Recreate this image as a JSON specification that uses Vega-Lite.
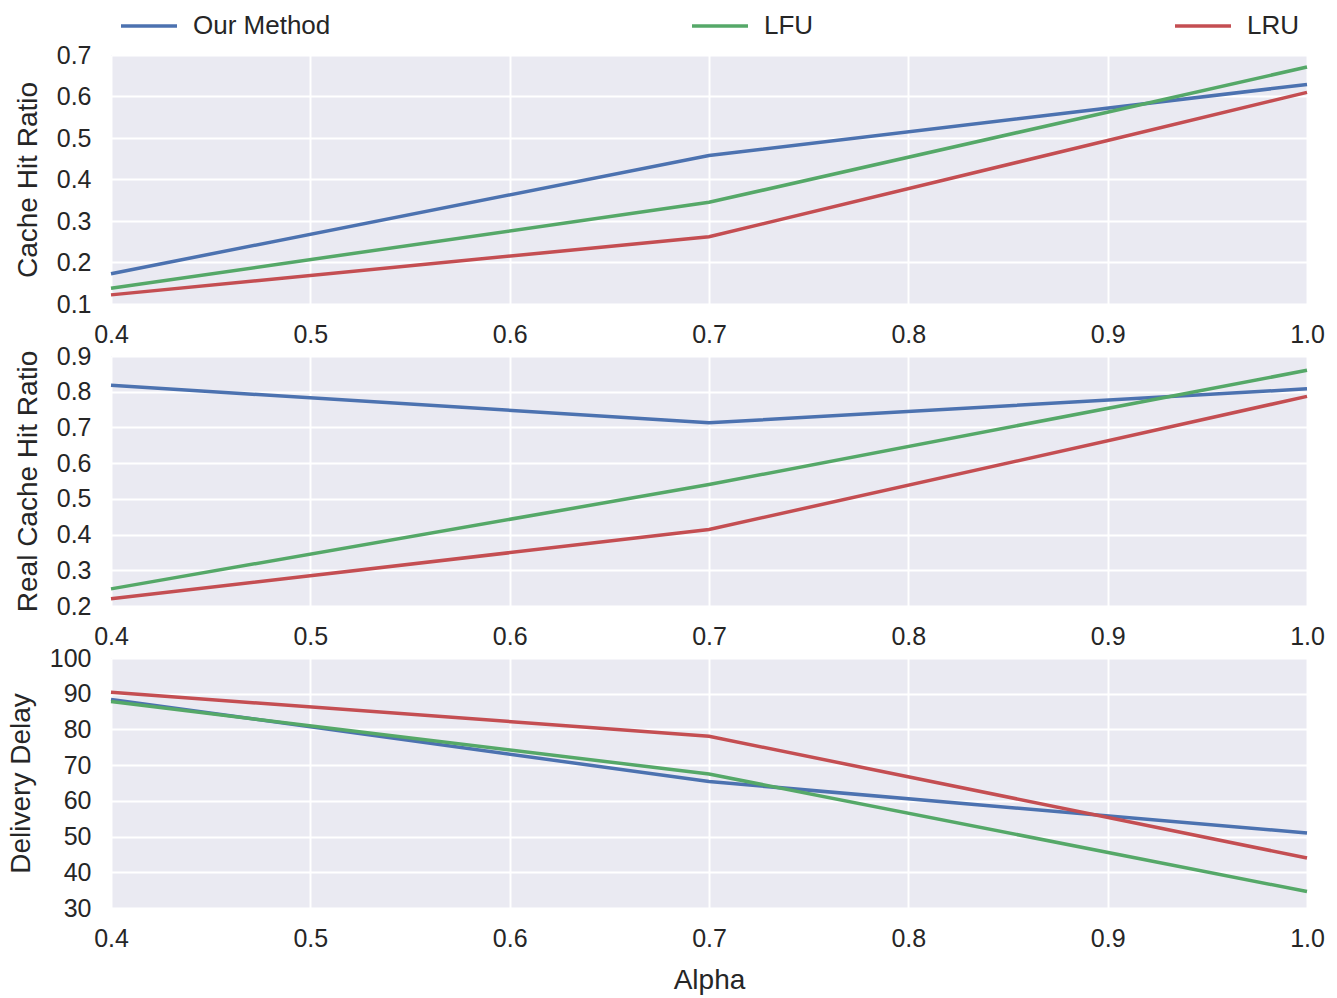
{
  "$schema": "https://vega.github.io/schema/vega-lite/v6.json",
  "padding": {"left": 7, "top": -12, "right": 30, "bottom": 5},
  "background": "white",
  "bounds": "flush",
  "spacing": 52,
  "data": {
    "values": [
      {"metric": "Cache Hit Ratio", "method": "Our Method", "alpha": 0.4, "value": 0.173},
      {"metric": "Cache Hit Ratio", "method": "Our Method", "alpha": 0.7, "value": 0.458},
      {"metric": "Cache Hit Ratio", "method": "Our Method", "alpha": 1.0, "value": 0.629},
      {"metric": "Cache Hit Ratio", "method": "LFU", "alpha": 0.4, "value": 0.138},
      {"metric": "Cache Hit Ratio", "method": "LFU", "alpha": 0.7, "value": 0.345},
      {"metric": "Cache Hit Ratio", "method": "LFU", "alpha": 1.0, "value": 0.671},
      {"metric": "Cache Hit Ratio", "method": "LRU", "alpha": 0.4, "value": 0.122},
      {"metric": "Cache Hit Ratio", "method": "LRU", "alpha": 0.7, "value": 0.262},
      {"metric": "Cache Hit Ratio", "method": "LRU", "alpha": 1.0, "value": 0.610},
      {"metric": "Real Cache Hit Ratio", "method": "Our Method", "alpha": 0.4, "value": 0.818},
      {"metric": "Real Cache Hit Ratio", "method": "Our Method", "alpha": 0.7, "value": 0.713},
      {"metric": "Real Cache Hit Ratio", "method": "Our Method", "alpha": 1.0, "value": 0.808},
      {"metric": "Real Cache Hit Ratio", "method": "LFU", "alpha": 0.4, "value": 0.248},
      {"metric": "Real Cache Hit Ratio", "method": "LFU", "alpha": 0.7, "value": 0.540},
      {"metric": "Real Cache Hit Ratio", "method": "LFU", "alpha": 1.0, "value": 0.860},
      {"metric": "Real Cache Hit Ratio", "method": "LRU", "alpha": 0.4, "value": 0.220},
      {"metric": "Real Cache Hit Ratio", "method": "LRU", "alpha": 0.7, "value": 0.414},
      {"metric": "Real Cache Hit Ratio", "method": "LRU", "alpha": 1.0, "value": 0.787},
      {"metric": "Delivery Delay", "method": "Our Method", "alpha": 0.4, "value": 88.4},
      {"metric": "Delivery Delay", "method": "Our Method", "alpha": 0.7, "value": 65.4},
      {"metric": "Delivery Delay", "method": "Our Method", "alpha": 1.0, "value": 51.0},
      {"metric": "Delivery Delay", "method": "LFU", "alpha": 0.4, "value": 87.8},
      {"metric": "Delivery Delay", "method": "LFU", "alpha": 0.7, "value": 67.5},
      {"metric": "Delivery Delay", "method": "LFU", "alpha": 1.0, "value": 34.6},
      {"metric": "Delivery Delay", "method": "LRU", "alpha": 0.4, "value": 90.4},
      {"metric": "Delivery Delay", "method": "LRU", "alpha": 0.7, "value": 78.1},
      {"metric": "Delivery Delay", "method": "LRU", "alpha": 1.0, "value": 44.0}
    ]
  },
  "vconcat": [
    {
      "width": 1196,
      "height": 249,
      "transform": [{"filter": "datum.metric === 'Cache Hit Ratio'"}],
      "mark": {"type": "line", "strokeWidth": 3.5},
      "encoding": {
        "x": {"field": "alpha", "type": "quantitative", "scale": {"domain": [0.4, 1.0], "nice": false, "zero": false}, "axis": {"title": null, "values": [0.4, 0.5, 0.6, 0.7, 0.8, 0.9, 1.0], "format": ".1f"}},
        "y": {"field": "value", "type": "quantitative", "scale": {"domain": [0.1, 0.7], "nice": false, "zero": false}, "axis": {"title": "Cache Hit Ratio", "values": [0.1, 0.2, 0.3, 0.4, 0.5, 0.6, 0.7], "format": ".1f"}},
        "color": {"field": "method", "type": "nominal", "scale": {"domain": ["Our Method", "LFU", "LRU"], "range": ["#4C72B0", "#55A868", "#C44E52"]}, "legend": {"title": null}},
        "order": {"field": "alpha", "type": "quantitative"}
      }
    },
    {
      "width": 1196,
      "height": 250,
      "transform": [{"filter": "datum.metric === 'Real Cache Hit Ratio'"}],
      "mark": {"type": "line", "strokeWidth": 3.5},
      "encoding": {
        "x": {"field": "alpha", "type": "quantitative", "scale": {"domain": [0.4, 1.0], "nice": false, "zero": false}, "axis": {"title": null, "values": [0.4, 0.5, 0.6, 0.7, 0.8, 0.9, 1.0], "format": ".1f"}},
        "y": {"field": "value", "type": "quantitative", "scale": {"domain": [0.2, 0.9], "nice": false, "zero": false}, "axis": {"title": "Real Cache Hit Ratio", "values": [0.2, 0.3, 0.4, 0.5, 0.6, 0.7, 0.8, 0.9], "format": ".1f"}},
        "color": {"field": "method", "type": "nominal", "scale": {"domain": ["Our Method", "LFU", "LRU"], "range": ["#4C72B0", "#55A868", "#C44E52"]}, "legend": {"title": null}},
        "order": {"field": "alpha", "type": "quantitative"}
      }
    },
    {
      "width": 1196,
      "height": 250,
      "transform": [{"filter": "datum.metric === 'Delivery Delay'"}],
      "mark": {"type": "line", "strokeWidth": 3.5},
      "encoding": {
        "x": {"field": "alpha", "type": "quantitative", "scale": {"domain": [0.4, 1.0], "nice": false, "zero": false}, "axis": {"title": "Alpha", "values": [0.4, 0.5, 0.6, 0.7, 0.8, 0.9, 1.0], "format": ".1f"}},
        "y": {"field": "value", "type": "quantitative", "scale": {"domain": [30, 100], "nice": false, "zero": false}, "axis": {"title": "Delivery Delay", "values": [30, 40, 50, 60, 70, 80, 90, 100]}},
        "color": {"field": "method", "type": "nominal", "scale": {"domain": ["Our Method", "LFU", "LRU"], "range": ["#4C72B0", "#55A868", "#C44E52"]}, "legend": {"title": null}},
        "order": {"field": "alpha", "type": "quantitative"}
      }
    }
  ],
  "config": {
    "view": {"fill": "#EAEAF2", "stroke": null},
    "axis": {
      "domain": false,
      "ticks": false,
      "grid": true,
      "gridColor": "#FFFFFF",
      "gridWidth": 2,
      "labelFont": "Liberation Sans",
      "labelFontSize": 25,
      "labelColor": "#262626",
      "titleFont": "Liberation Sans",
      "titleFontSize": 28,
      "titleFontWeight": "normal",
      "titleColor": "#262626",
      "labelFlush": false,
      "labelOverlap": false
    },
    "axisX": {"labelPadding": 18, "titlePadding": 15},
    "axisY": {"labelPadding": 20, "titlePadding": 14},
    "legend": {
      "orient": "top",
      "direction": "horizontal",
      "columnPadding": 354,
      "symbolType": "stroke",
      "symbolSize": 3136,
      "symbolStrokeWidth": 3.5,
      "labelOffset": 14,
      "labelFont": "Liberation Sans",
      "labelFontSize": 26,
      "labelColor": "#262626",
      "labelLimit": 400,
      "padding": 8,
      "offset": -4
    }
  }
}
